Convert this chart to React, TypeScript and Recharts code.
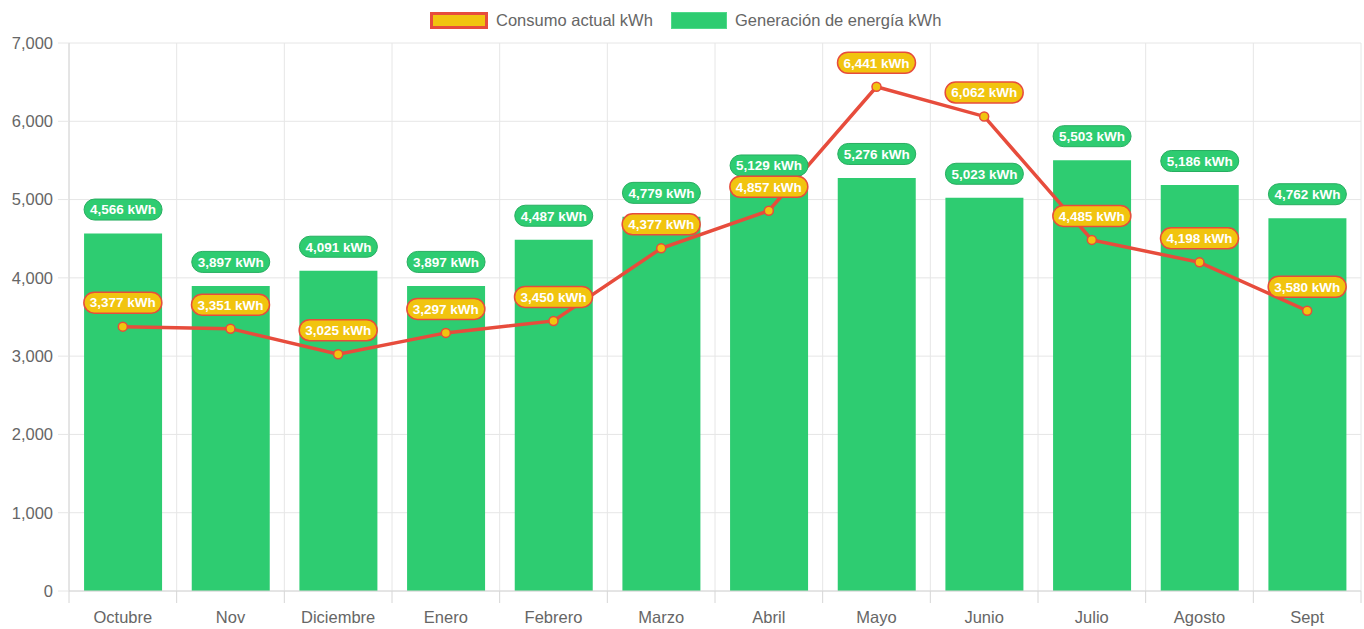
import React from 'react';
import { ComposedChart, Bar, Line, XAxis, YAxis, CartesianGrid, LabelList } from 'recharts';

const categories = ['Octubre', 'Nov', 'Diciembre', 'Enero', 'Febrero', 'Marzo', 'Abril', 'Mayo', 'Junio', 'Julio', 'Agosto', 'Sept'];
const generacion = [4566, 3897, 4091, 3897, 4487, 4779, 5129, 5276, 5023, 5503, 5186, 4762];
const consumo = [3377, 3351, 3025, 3297, 3450, 4377, 4857, 6441, 6062, 4485, 4198, 3580];
const yTicks = [0, 1000, 2000, 3000, 4000, 5000, 6000, 7000];

const data = categories.map((c, i) => ({ cat: c, gen: generacion[i], con: consumo[i] }));

const W = 1364;
const H = 629;
const X_AXIS_H = 38;
const Y_AXIS_W = 69;
const margin = { top: 43, right: 3, bottom: 0, left: 0 };
const plotW = W - margin.left - margin.right - Y_AXIS_W;
const step = plotW / categories.length;

const FONT = "'Helvetica Neue', Helvetica, Arial, 'Liberation Sans', sans-serif";
const GRID = '#e6e6e6';
const AXIS = '#d6d6d6';
const TEXT = '#666666';
const GREEN = '#2ecc71';
const GREEN_DARK = '#27ae60';
const RED = '#e74c3c';
const YELLOW = '#f1c40f';

const fmt = (v: number) => v.toLocaleString('en-US');

const makePill = (fill: string, stroke: string, sw: number) => (props: any) => {
  const vb = props.viewBox && props.viewBox.x !== undefined ? props.viewBox : props;
  const cx = vb.x + (vb.width || 0) / 2;
  const top = vb.y;
  const cy = top - 24;
  const txt = `${fmt(Number(props.value))} kWh`;
  const w = 78;
  const h = 21;
  return (
    <g>
      <rect x={cx - w / 2} y={cy - h / 2} width={w} height={h} rx={h / 2} ry={h / 2} fill={fill} stroke={stroke} strokeWidth={sw} />
      <text x={cx} y={cy} dy="0.36em" textAnchor="middle" fontFamily={FONT} fontSize={13.5} fontWeight="bold" fill="#ffffff">
        {txt}
      </text>
    </g>
  );
};

const GreenPill = makePill(GREEN, GREEN_DARK, 1);
const YellowPill = makePill(YELLOW, RED, 1.5);

const XTick = (props: any) => {
  const { x, y, payload, index } = props;
  const left = x - step / 2;
  const right = x + step / 2;
  return (
    <g>
      <line x1={left} y1={y} x2={left} y2={y + 12} stroke={AXIS} strokeWidth={1} />
      {index === categories.length - 1 && (
        <line x1={right} y1={y} x2={right} y2={y + 12} stroke={AXIS} strokeWidth={1} />
      )}
      <text x={x} y={y + 26} dy="0.355em" textAnchor="middle" fontFamily={FONT} fontSize={16.5} fill={TEXT}>
        {payload.value}
      </text>
    </g>
  );
};

const verticalGen = (p: any) => {
  const off = p.offset;
  const out: number[] = [];
  for (let i = 0; i <= categories.length; i++) out.push(off.left + (off.width / categories.length) * i);
  return out;
};

const Legend = () => (
  <div style={{ position: 'absolute', left: 0, top: 0, width: W, height: 40, fontFamily: FONT, fontSize: 16.5, color: TEXT }}>
    <div style={{ position: 'absolute', left: 430, top: 12, width: 52, height: 11, background: YELLOW, border: `3px solid ${RED}` }} />
    <div style={{ position: 'absolute', left: 496, top: 10, lineHeight: '20px', whiteSpace: 'nowrap' }}>Consumo actual kWh</div>
    <div style={{ position: 'absolute', left: 671, top: 12, width: 54, height: 15, background: GREEN, border: `1px solid #4fd98a` }} />
    <div style={{ position: 'absolute', left: 735, top: 10, lineHeight: '20px', whiteSpace: 'nowrap' }}>Generación de energía kWh</div>
  </div>
);

export default function App() {
  return (
    <div style={{ position: 'absolute', left: 0, top: 0, width: W, height: H, background: '#ffffff', overflow: 'hidden' }}>
      <Legend />
      <div style={{ position: 'absolute', left: 0, top: 0 }}>
        <ComposedChart width={W} height={H} data={data} margin={margin} barCategoryGap="14%">
          <CartesianGrid stroke={GRID} vertical={true} horizontal={true} verticalCoordinatesGenerator={verticalGen} />
          <XAxis
            dataKey="cat"
            tick={<XTick />}
            tickLine={false}
            tickSize={0}
            tickMargin={0}
            axisLine={{ stroke: AXIS }}
            interval={0}
            height={X_AXIS_H}
          />
          <YAxis
            domain={[0, 7000]}
            ticks={yTicks}
            width={Y_AXIS_W}
            tickSize={11}
            tickMargin={5}
            tickLine={{ stroke: GRID }}
            axisLine={{ stroke: AXIS }}
            tickFormatter={fmt}
            tick={{ fill: TEXT, fontSize: 16.5, fontFamily: FONT }}
            interval={0}
          />
          <Bar dataKey="gen" fill={GREEN} isAnimationActive={false}>
            <LabelList dataKey="gen" content={GreenPill} />
          </Bar>
          <Line
            dataKey="con"
            type="linear"
            stroke={RED}
            strokeWidth={3.5}
            dot={{ r: 4.5, fill: YELLOW, stroke: RED, strokeWidth: 1.5 }}
            activeDot={false}
            isAnimationActive={false}
          >
            <LabelList dataKey="con" content={YellowPill} />
          </Line>
        </ComposedChart>
      </div>
    </div>
  );
}
